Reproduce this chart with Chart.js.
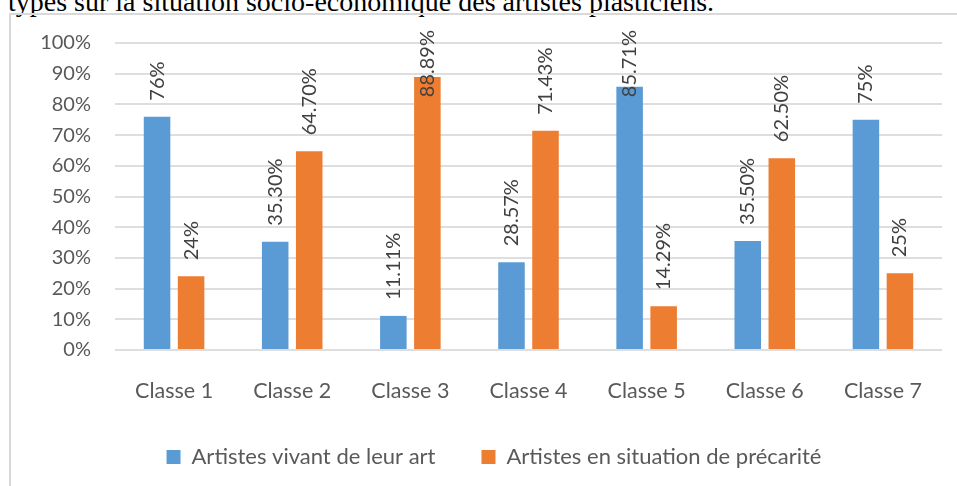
<!DOCTYPE html>
<html>
<head>
<meta charset="utf-8">
<script src="https://cdn.jsdelivr.net/npm/chart.js@4"></script>
<style>
    html, body {
        margin: 0;
        padding: 0;
        background: #ffffff;
        width: 957px;
        height: 486px;
        overflow: hidden;
        position: relative;
    }

    .caption {
        position: absolute;
        left: 8px;
        top: -12px;
        font-family: "Liberation Serif", "Times New Roman", serif;
        font-size: 28px;
        line-height: 28px;
        color: #000;
        white-space: nowrap;
    }

    .chart-box {
        position: absolute;
        left: 9px;
        top: 13px;
        width: 1000px;
        height: 500px;
        border-left: 2px solid #d9d9d9;
        border-top: 2px solid #d9d9d9;
    }

    #chart {
        position: absolute;
        left: 0;
        top: 0;
    }
</style>
</head>
<body>

<div class="caption">types sur la situation socio-économique des artistes plasticiens.</div>
<div class="chart-box"></div>
<canvas id="chart" width="988" height="486"></canvas>

<script>
/* =========================
   DATA
========================= */

const categories = ['Classe 1', 'Classe 2', 'Classe 3', 'Classe 4', 'Classe 5', 'Classe 6', 'Classe 7'];

const seriesNames = ['Artistes vivant de leur art', 'Artistes en situation de précarité'];

const vivantValues = [76, 35.30, 11.11, 28.57, 85.71, 35.50, 75];
const precaiteValues = [24, 64.70, 88.89, 71.43, 14.29, 62.50, 25];

const vivantLabels = ['76%', '35.30%', '11.11%', '28.57%', '85.71%', '35.50%', '75%'];
const precaiteLabels = ['24%', '64.70%', '88.89%', '71.43%', '14.29%', '62.50%', '25%'];

const yTicks = ['0%', '10%', '20%', '30%', '40%', '50%', '60%', '70%', '80%', '90%', '100%'];

/* =========================
   DATA LABELS (rotated)
========================= */

const FONT = 'Lato, "Open Sans", sans-serif';

const rotatedLabels = {
    id: 'rotatedLabels',
    afterDatasetsDraw(chart) {
        const ctx = chart.ctx;
        const allLabels = [vivantLabels, precaiteLabels];

        ctx.save();
        ctx.font = '20px ' + FONT;
        ctx.fillStyle = '#404040';
        ctx.textAlign = 'left';
        ctx.textBaseline = 'middle';

        chart.data.datasets.forEach(function(ds, di){
            const meta = chart.getDatasetMeta(di);
            meta.data.forEach(function(bar, i){
                const text = allLabels[di][i];
                const w = ctx.measureText(text).width;
                let bottom = bar.y - 16;
                if (bottom - w < 30) {
                    bottom = 30 + w;
                }
                ctx.save();
                ctx.translate(bar.x, bottom);
                ctx.rotate(-Math.PI / 2);
                ctx.fillText(text, 0, 0);
                ctx.restore();
            });
        });

        ctx.restore();
    }
};

/* =========================
   CHART
========================= */

new Chart(document.getElementById('chart'), {
    type: 'bar',

    data: {
        labels: categories,
        datasets: [
            {
                label: seriesNames[0],
                data: vivantValues,
                backgroundColor: '#5b9bd5',
                categoryPercentage: 0.576,
                barPercentage: 0.78
            },
            {
                label: seriesNames[1],
                data: precaiteValues,
                backgroundColor: '#ed7d31',
                categoryPercentage: 0.576,
                barPercentage: 0.78
            }
        ]
    },

    options: {
        responsive: false,
        animation: false,
        devicePixelRatio: 1,

        layout: {
            padding: { top: 43, left: 30, right: 30, bottom: 8 }
        },

        plugins: {
            legend: {
                position: 'bottom',
                labels: {
                    boxWidth: 14,
                    boxHeight: 14,
                    padding: 46,
                    color: '#595959',
                    font: { family: FONT, size: 22 }
                }
            },
            tooltip: { enabled: false }
        },

        scales: {
            x: {
                grid: { display: false },
                border: { display: false },
                ticks: {
                    color: '#595959',
                    padding: 20,
                    font: { family: FONT, size: 21.5 }
                },
                afterFit: function(scale){
                    scale.height = 50;
                }
            },

            y: {
                min: 0,
                max: 100,
                border: { display: false },
                grid: {
                    color: '#dedede',
                    lineWidth: 2,
                    drawTicks: false
                },
                ticks: {
                    stepSize: 10,
                    color: '#595959',
                    padding: 24,
                    font: { family: FONT, size: 20 },
                    callback: function(value){
                        return yTicks[Math.round(value / 10)];
                    }
                },
                afterFit: function(scale){
                    scale.width = 85;
                }
            },

            // empty right margin inside the chart box
            yRight: {
                position: 'right',
                min: 0,
                max: 100,
                grid: { display: false },
                border: { display: false },
                ticks: { display: false },
                afterFit: function(scale){
                    scale.width = 16;
                }
            }
        }
    },

    plugins: [rotatedLabels]
});
</script>
</body>
</html>
